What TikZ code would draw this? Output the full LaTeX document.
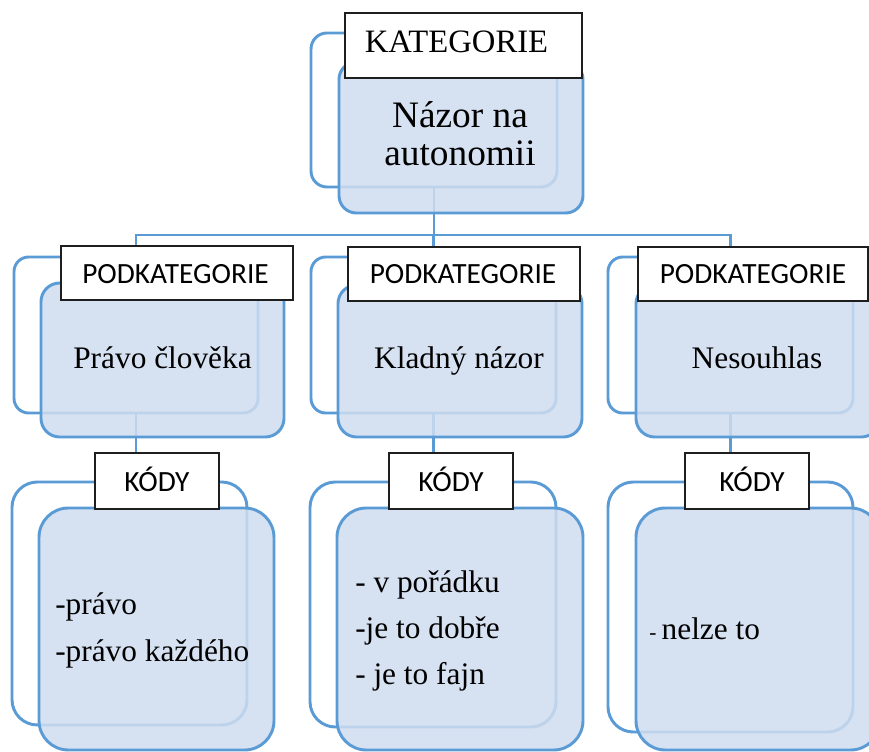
\documentclass[tikz,border=0pt]{standalone}
\usepackage{fontspec}
\setmainfont{Liberation Serif}
\newfontfamily\tagfont{Carlito}
\usetikzlibrary{fit}
\definecolor{lineblue}{RGB}{91,155,213}
\definecolor{boxfill}{RGB}{207,220,239}
\definecolor{tagframe}{RGB}{30,30,30}

\begin{document}
\begin{tikzpicture}[x=0.75pt,y=-0.75pt,
  outline/.style={draw=lineblue, line width=2.2pt, inner sep=0pt, outer sep=0pt},
  backbox/.style={outline, rounded corners=#1},
  frontbox/.style={outline, fill=boxfill, fill opacity=0.85, rounded corners=#1},
  tag/.style={draw=tagframe, fill=white, line width=0.9pt, inner sep=0pt, outer sep=0pt},
  conn/.style={draw=lineblue, line width=2.2pt},
  titletext/.style={anchor=base, inner sep=0pt, font=\fontsize{28}{28}\selectfont},
  subtext/.style={anchor=base, inner sep=0pt, font=\fontsize{23.5}{23.5}\selectfont},
  codetext/.style={anchor=base west, inner sep=0pt, font=\fontsize{23.5}{23.5}\selectfont},
  serifhead/.style={anchor=base, inner sep=0pt, font=\fontsize{24.5}{24.5}\selectfont},
  sanshead/.style={anchor=base, inner sep=0pt, font=\tagfont\fontsize{22}{22}\selectfont},
]
\useasboundingbox (0,0) rectangle (869,752);
\clip (0,0) rectangle (869,752);

% outline boxes behind
\node[backbox=12pt, fit={(311,33) (557,187)}] (tback) {};
\node[backbox=11pt, fit={(14,257) (258,413)}] (mback1) {};
\node[backbox=11pt, fit={(311,257) (556,413)}] (mback2) {};
\node[backbox=11pt, fit={(608,257) (853,413)}] (mback3) {};
\node[backbox=19pt, fit={(12,482) (247,725)}] (bback1) {};
\node[backbox=19pt, fit={(310,482) (556,727)}] (bback2) {};
\node[backbox=19pt, fit={(608,482) (853,732)}] (bback3) {};

% connectors
\coordinate (bus) at (0,235);
\draw[conn] (tback.south) -- (tback.south |- bus);
\draw[conn] (mback1.north) -- (mback1.north |- bus) -- (mback3.north |- bus) -- (mback3.north);
\draw[conn] (mback2.north |- bus) -- (mback2.north);
\draw[conn] (mback1.south) -- (mback1.south |- bback1.north);
\draw[conn] (mback2.south) -- (mback2.south |- bback2.north);
\draw[conn] (mback3.south) -- (mback3.south |- bback3.north);

% filled boxes in front
\node[frontbox=13pt, fit={(339,62) (583,213)}] (tfront) {};
\node[frontbox=14pt, fit={(41,283) (284,437)}] (mfront1) {};
\node[frontbox=14pt, fit={(338,285) (582,437)}] (mfront2) {};
\node[frontbox=14pt, fit={(636,285) (880,437)}] (mfront3) {};
\node[frontbox=22pt, fit={(39,508) (274,750)}] (bfront1) {};
\node[frontbox=22pt, fit={(337,508) (583,750)}] (bfront2) {};
\node[frontbox=22pt, fit={(636,508) (880,750)}] (bfront3) {};

% heading tags
\node[tag, fit={(345,13) (582,78)}] (ttag) {};
\node[tag, fit={(61,246) (293,300)}] (mtag1) {};
\node[tag, fit={(348,247) (580,301)}] (mtag2) {};
\node[tag, fit={(638,247) (868,301)}] (mtag3) {};
\node[tag, fit={(95,453) (219,509)}] (btag1) {};
\node[tag, fit={(389,453) (513,509)}] (btag2) {};
\node[tag, fit={(685,453) (809,509)}] (btag3) {};

\node[serifhead] (ttagtext) at (456.5,53) {KATEGORIE};
\node[sanshead] (mtagtext1) at (175.5,284) {PODKATEGORIE};
\node[sanshead] (mtagtext2) at (463,284) {PODKATEGORIE};
\node[sanshead] (mtagtext3) at (753,284) {PODKATEGORIE};
\node[sanshead] (btagtext1) at (157,492) {KÓDY};
\node[sanshead] (btagtext2) at (451,492) {KÓDY};
\node[sanshead] (btagtext3) at (752,492) {KÓDY};

% box contents
\node[titletext] (title1) at (460,128) {Názor na};
\node[titletext] (title2) at (460,166) {autonomii};
\node[subtext] (sub1) at (162.5,369) {Právo člověka};
\node[subtext] (sub2) at (459,369) {Kladný názor};
\node[subtext] (sub3) at (757,369) {Nesouhlas};

\node[codetext] (c11) at (55,615) {-právo};
\node[codetext] (c12) at (55,662) {-právo každého};
\node[codetext] (c21) at (355,593) {- v pořádku};
\node[codetext] (c22) at (355,639) {-je to dobře};
\node[codetext] (c23) at (355,685) {- je to fajn};
\node[codetext] (c31) at (649,640) {{\fontsize{16}{16}\selectfont- }nelze to};
\end{tikzpicture}
\end{document}
